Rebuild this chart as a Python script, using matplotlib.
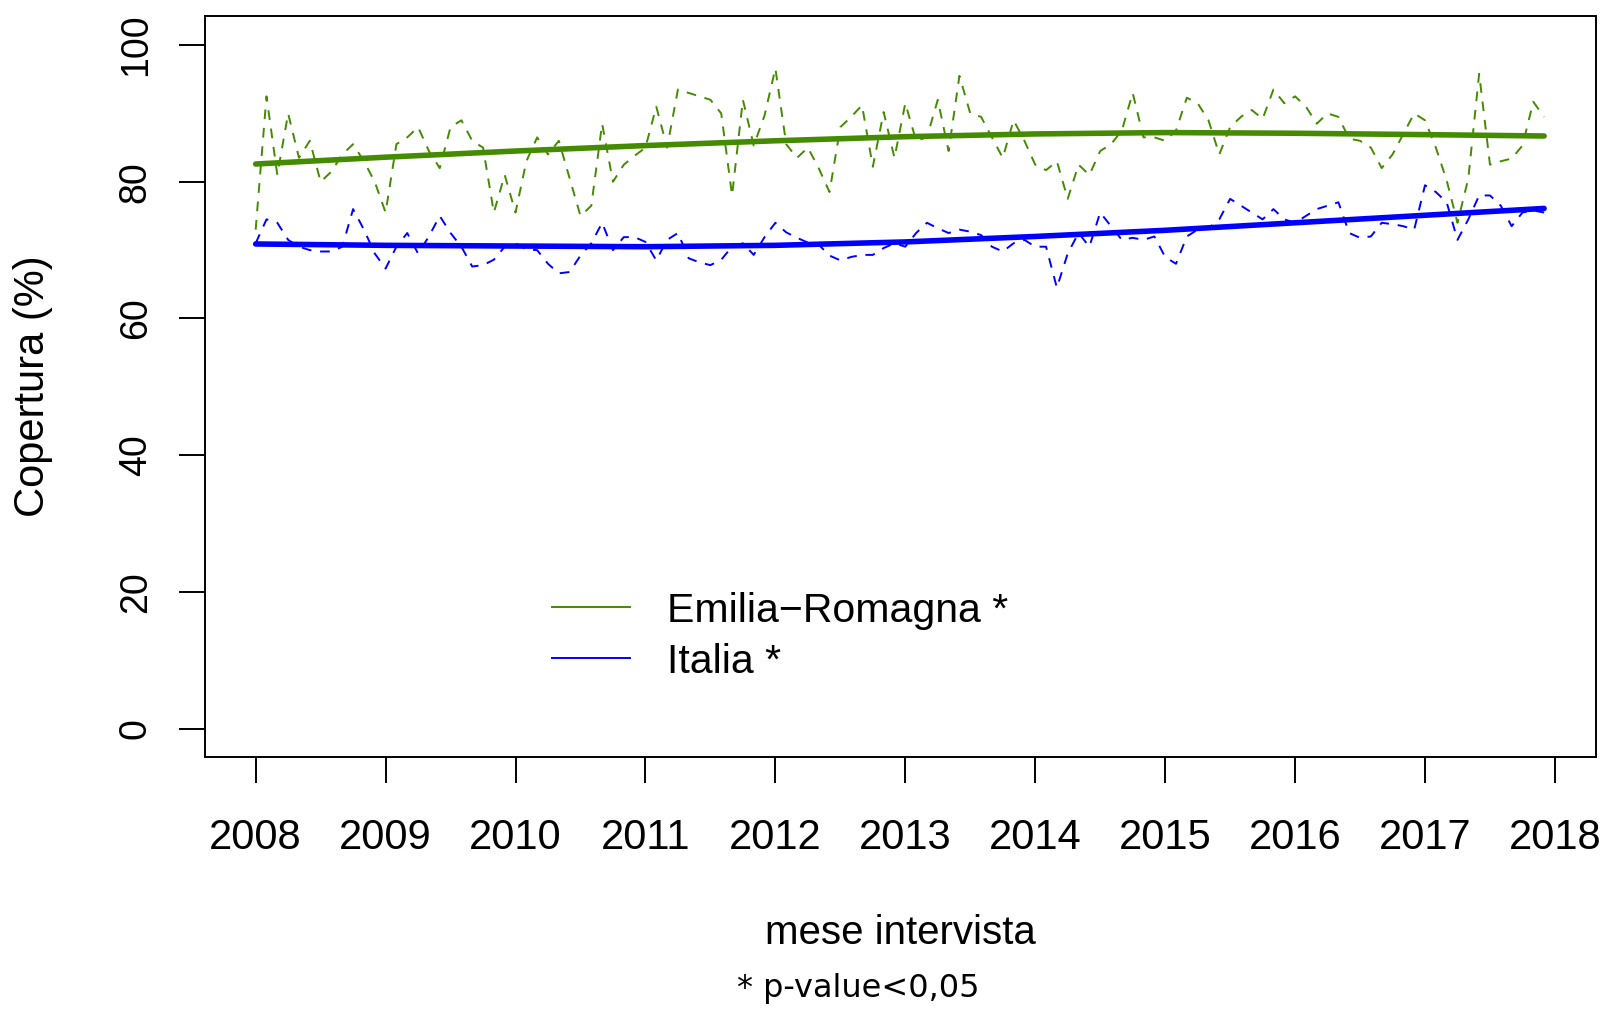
import matplotlib
matplotlib.use("Agg")
import matplotlib.pyplot as plt
from matplotlib.lines import Line2D
from matplotlib.patches import Circle
import numpy as np

# monthly coverage (%), Jan 2008 .. Dec 2017
emilia_monthly = [
    73, 92.5, 81, 90, 83.5, 86, 80, 81.5, 84, 85.5, 83, 80,
    75.5, 85.5, 86.5, 88, 84.5, 82, 88, 89, 86, 85, 75.5, 81,
    75.5, 83, 86.5, 84, 86, 80.5, 75, 76.5, 88.5, 80, 82.5, 83.8,
    85, 91, 85, 93.5, 93, 92.5, 92, 90, 78, 92, 85.3, 89.7,
    96.6, 85.5, 83.5, 85, 82, 78.5, 88, 89.5, 91.2, 82.2, 90.2, 83.5,
    91.5, 86, 86.5, 92, 84.5, 95.5, 90, 89.5, 86.5, 83.5, 89, 86,
    82.5, 81.7, 83, 77.5, 82.5, 81, 84.5, 85.5, 87.5, 93, 86.5, 86.5,
    86, 87.5, 92.3, 91.5, 89, 84, 88, 89.5, 90.5, 89.2, 93.5, 91.5,
    92.5, 91, 88.5, 90, 89.5, 86.3, 86, 85, 82, 84, 87, 90,
    89, 85, 80.2, 74, 80.5, 95.8, 82.5, 83, 83.4, 85.3, 91.7, 89.5,
]
italia_monthly = [
    71, 74.5, 74, 71.5, 70.5, 70, 69.8, 69.8, 70.5, 76, 73, 69.5,
    67.3, 70.5, 72.5, 69.5, 72, 75, 72.5, 70.5, 67.6, 67.8, 68.6, 70.5,
    71, 70.1, 70, 68, 66.6, 66.8, 69.2, 71, 74, 70, 71.9, 71.9,
    71.2, 68.5, 71.5, 72.5, 68.8, 68.2, 67.8, 68.6, 70.5, 71, 69.3, 71.9,
    74, 72.6, 71.8, 71.1, 70.8, 69.2, 68.5, 69, 69.3, 69.3, 70.3, 71,
    70.5, 72.5, 74, 73.2, 72.5, 73, 72.7, 72.2, 70.5, 69.8, 71, 71.5,
    70.5, 70.5, 64.5, 69.5, 72.5, 70.5, 75.5, 73.5, 71.5, 71.8, 71.5, 72,
    69, 68, 72, 73, 73.2, 74.5, 77.5, 76.5, 75.5, 74.5, 76, 74.5,
    74, 75, 76, 76.5, 77, 72.5, 71.8, 72, 74, 73.8, 73.5, 73,
    79.5, 78.5, 77, 71.5, 74.5, 78, 78, 76.5, 73.5, 75.5, 75.8, 75.5,
]

# smoothed trend read at each year
trend_years = [2008, 2009, 2010, 2011, 2012, 2013, 2014, 2015, 2016, 2017, 2017 + 11 / 12]
emilia_trend = [82.6, 83.6, 84.5, 85.3, 86.0, 86.6, 87.0, 87.2, 87.1, 86.9, 86.7]
italia_trend = [70.9, 70.7, 70.6, 70.5, 70.7, 71.2, 72.0, 72.9, 74.0, 75.1, 76.1]

year_ticks = list(range(2008, 2019))
y_ticks = [0, 20, 40, 60, 80, 100]

GREEN = "#458B00"
BLUE = "#0000FF"
W, H = 1604, 1009

plt.rcParams["font.family"] = ["Liberation Sans", "DejaVu Sans"]

months = 2008 + np.arange(len(emilia_monthly)) / 12

fig = plt.figure(figsize=(W / 100, H / 100), dpi=100)
ax = fig.add_axes([204.6 / W, 1 - 757 / H, (1596 - 204.6) / W, (757 - 16.4) / H])

ax.plot(months, emilia_monthly, color=GREEN, lw=1.4, linestyle=(0, (5, 4.5)))
ax.plot(months, italia_monthly, color=BLUE, lw=1.4, linestyle=(0, (5, 4.5)))
ax.plot(trend_years, emilia_trend, color=GREEN, lw=4, solid_capstyle="round")
ax.plot(trend_years, italia_trend, color=BLUE, lw=4, solid_capstyle="round")

ax.set_xlim(2007.607, 2018.316)
ax.set_ylim(-4.17, 104.2)
ax.set_xticks(year_ticks)
ax.set_yticks(y_ticks)
ax.tick_params(axis="x", length=18.7, width=1.4, pad=25, labelsize=30)
ax.tick_params(axis="y", length=18.7, width=1.4, pad=18, labelsize=27)
plt.setp(ax.get_yticklabels(), rotation=90, va="center")
for s in ax.spines.values():
    s.set_linewidth(1.4)

# legend drawn by hand, no frame
for y_px, col, label in [(607, GREEN, "Emilia\u2212Romagna *"), (658, BLUE, "Italia *")]:
    fig.add_artist(Line2D([552 / W, 630 / W], [1 - y_px / H, 1 - y_px / H],
                          color=col, lw=1.4, transform=fig.transFigure))
    fig.text(667 / W, 1 - (y_px + 15) / H, label, fontsize=29.5, va="baseline", ha="left")

fig.text(900 / W, 1 - 933 / H, "mese intervista", fontsize=29, ha="center", va="center")
fig.text(33 / W, 1 - 386 / H, "Copertura (%)", fontsize=30, rotation=90, ha="center", va="center")
fig.text(737 / W, 1 - 997 / H, "* p-value<0,05", fontsize=23, family="DejaVu Sans",
         ha="left", va="baseline")

fig.add_artist(Circle((1620 / W, 1 - 1050 / H), 56 / W, transform=fig.transFigure,
                      facecolor="#d2d2d2", edgecolor="#a8a8a8", lw=1.5))

fig.savefig("out.png", dpi=100)
